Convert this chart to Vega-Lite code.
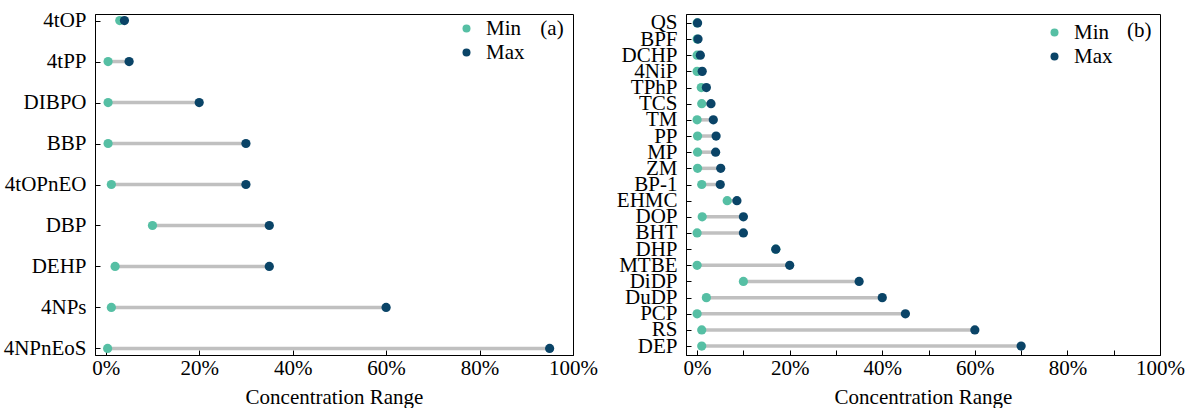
{
  "$schema": "https://vega.github.io/schema/vega-lite/v6.json",
  "padding": {"left": 2, "top": 9, "right": 0, "bottom": 0},
  "spacing": 17,
  "background": "white",
  "config": {
    "font": "Liberation Serif",
    "view": {"stroke": "black", "strokeWidth": 1},
    "axis": {
      "labelFont": "Liberation Serif", "titleFont": "Liberation Serif",
      "labelFontSize": 21, "titleFontSize": 21, "titleFontWeight": "normal",
      "labelColor": "black", "titleColor": "black",
      "domainColor": "black", "tickColor": "black", "grid": false,
      "tickSize": -5, "labelOverlap": false, "labelFlush": false, "titlePadding": 8
    },
    "axisX": {"labelPadding": 7},
    "axisY": {"labelPadding": 14},
    "legend": {
      "labelFont": "Liberation Serif", "labelFontSize": 21, "labelColor": "black",
      "symbolType": "circle", "symbolSize": 64, "symbolStrokeWidth": 0,
      "padding": 0, "rowPadding": 2, "labelOffset": 9, "orient": "none"
    }
  },
  "resolve": {"scale": {"color": "independent"}, "legend": {"color": "independent"}},
  "hconcat": [
    {
      "width": 478, "height": 341,
      "data": {"values": [
        {"name": "4tOP", "Min": 0.03, "Max": 0.04},
        {"name": "4tPP", "Min": 0.005, "Max": 0.05},
        {"name": "DIBPO", "Min": 0.005, "Max": 0.20},
        {"name": "BBP", "Min": 0.005, "Max": 0.30},
        {"name": "4tOPnEO", "Min": 0.012, "Max": 0.30},
        {"name": "DBP", "Min": 0.10, "Max": 0.35},
        {"name": "DEHP", "Min": 0.02, "Max": 0.35},
        {"name": "4NPs", "Min": 0.012, "Max": 0.60},
        {"name": "4NPnEoS", "Min": 0.004, "Max": 0.95}
      ]},
      "layer": [
        {
          "mark": {"type": "rule", "color": "#c0c0c0", "strokeWidth": 3.5},
          "encoding": {
            "y": {"field": "name", "type": "nominal", "sort": null, "scale": {"type": "point", "padding": 0.16}, "axis": {"title": null}},
            "x": {"field": "Min", "type": "quantitative", "scale": {"domain": [-0.023, 1], "nice": false}, "axis": {"title": "Concentration Range", "format": ".0%", "values": [0, 0.2, 0.4, 0.6, 0.8, 1]}},
            "x2": {"field": "Max"}
          }
        },
        {
          "transform": [{"fold": ["Min", "Max"], "as": ["type", "value"]}],
          "mark": {"type": "circle", "size": 85, "opacity": 1},
          "encoding": {
            "y": {"field": "name", "type": "nominal", "sort": null},
            "x": {"field": "value", "type": "quantitative"},
            "color": {"field": "type", "type": "nominal", "scale": {"domain": ["Min", "Max"], "range": ["#56bfa4", "#0a4467"]}, "legend": {"title": null, "legendX": 361, "legendY": 4}}
          }
        },
        {
          "data": {"values": [{"label": "(a)"}]},
          "mark": {"type": "text", "fontSize": 21, "dy": 8, "align": "center", "baseline": "middle", "color": "black"},
          "encoding": {
            "x": {"datum": 0.955, "type": "quantitative"},
            "y": {"datum": "4tOP", "type": "nominal"},
            "text": {"field": "label"}
          }
        }
      ]
    },
    {
      "width": 474, "height": 341,
      "data": {"values": [
        {"name": "QS", "Min": 0.0, "Max": 0.001},
        {"name": "BPF", "Min": 0.0, "Max": 0.002},
        {"name": "DCHP", "Min": 0.0, "Max": 0.007},
        {"name": "4NiP", "Min": 0.0, "Max": 0.011},
        {"name": "TPhP", "Min": 0.009, "Max": 0.02},
        {"name": "TCS", "Min": 0.01, "Max": 0.03},
        {"name": "TM", "Min": 0.0, "Max": 0.035},
        {"name": "PP", "Min": 0.001, "Max": 0.041},
        {"name": "MP", "Min": 0.001, "Max": 0.04},
        {"name": "ZM", "Min": 0.001, "Max": 0.051},
        {"name": "BP-1", "Min": 0.01, "Max": 0.05},
        {"name": "EHMC", "Min": 0.065, "Max": 0.086},
        {"name": "DOP", "Min": 0.011, "Max": 0.10},
        {"name": "BHT", "Min": 0.0, "Max": 0.10},
        {"name": "DHP", "Min": 0.17, "Max": 0.17},
        {"name": "MTBE", "Min": 0.0, "Max": 0.20},
        {"name": "DiDP", "Min": 0.10, "Max": 0.35},
        {"name": "DuDP", "Min": 0.02, "Max": 0.40},
        {"name": "PCP", "Min": 0.0, "Max": 0.45},
        {"name": "RS", "Min": 0.01, "Max": 0.60},
        {"name": "DEP", "Min": 0.01, "Max": 0.70}
      ]},
      "layer": [
        {
          "mark": {"type": "rule", "color": "#c0c0c0", "strokeWidth": 3.5},
          "encoding": {
            "y": {"field": "name", "type": "nominal", "sort": null, "scale": {"type": "point", "padding": 0.55}, "axis": {"title": null}},
            "x": {"field": "Min", "type": "quantitative", "scale": {"domain": [-0.024, 1], "nice": false}, "axis": {"title": "Concentration Range", "values": [0, 0.1, 0.2, 0.3, 0.4, 0.5, 0.6, 0.7, 0.8, 0.9, 1], "labelExpr": "round(datum.value * 100) % 20 == 0 ? format(datum.value, '.0%') : ''"}},
            "x2": {"field": "Max"}
          }
        },
        {
          "transform": [{"fold": ["Min", "Max"], "as": ["type", "value"]}],
          "mark": {"type": "circle", "size": 85, "opacity": 1},
          "encoding": {
            "y": {"field": "name", "type": "nominal", "sort": null},
            "x": {"field": "value", "type": "quantitative"},
            "color": {"field": "type", "type": "nominal", "scale": {"domain": ["Min", "Max"], "range": ["#56bfa4", "#0a4467"]}, "legend": {"title": null, "legendX": 358, "legendY": 8}}
          }
        },
        {
          "data": {"values": [{"label": "(b)"}]},
          "mark": {"type": "text", "fontSize": 21, "dy": 8, "align": "center", "baseline": "middle", "color": "black"},
          "encoding": {
            "x": {"datum": 0.955, "type": "quantitative"},
            "y": {"datum": "QS", "type": "nominal"},
            "text": {"field": "label"}
          }
        }
      ]
    }
  ]
}
